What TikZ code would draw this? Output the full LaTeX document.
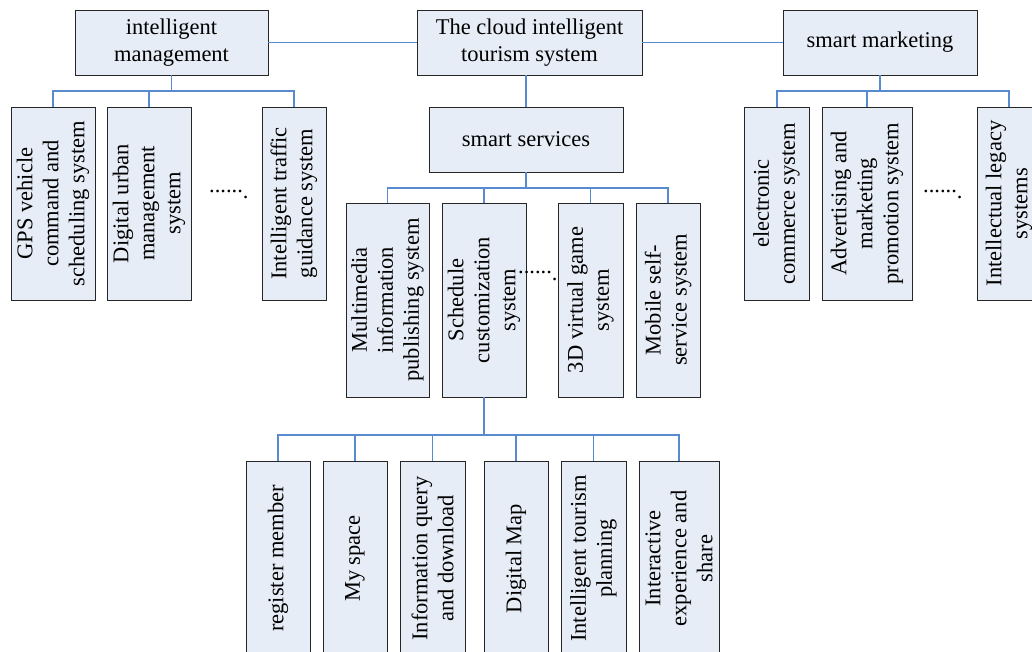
\documentclass[tikz,border=0pt]{standalone}
\usepackage{fontspec}
\setmainfont{Liberation Serif}
\usetikzlibrary{shadows}
\definecolor{boxfill}{RGB}{231,237,247}
\definecolor{linecol}{RGB}{88,138,208}
\begin{document}
\begin{tikzpicture}[x=1pt,y=-1pt,
 box/.style={draw=black!85, line width=0.9pt, fill=boxfill, inner sep=0pt,
   drop shadow={shadow xshift=0.9pt, shadow yshift=-1pt, fill=black!45, opacity=1}},
 ttxt/.style={font=\fontsize{22.5}{26.5}\selectfont, align=center},
 rot/.style={rotate=90, font=\fontsize{22.5}{26}\selectfont, align=center, inner sep=0pt},
 conn/.style={draw=linecol, line width=1.1pt},
 dots/.style={font=\fontsize{22.5}{26.5}\selectfont, inner sep=0pt}]
\useasboundingbox (0,0) rectangle (1032,652);
\clip (0,0) rectangle (1032,652);

% connectors first
\coordinate (imb) at (171.5,91);
\coordinate (smb) at (880,91);
\coordinate (ssb) at (526,188);
\coordinate (scb) at (484,435);

% top row
\node[box, ttxt, minimum width=193pt, minimum height=65pt] (im) at (171.5,42.5) {intelligent\\management};
\node[box, ttxt, minimum width=225pt, minimum height=65pt] (cloud) at (529.5,42.5) {The cloud intelligent\\tourism system};
\node[box, ttxt, minimum width=194pt, minimum height=65pt] (sm) at (880,42.5) {smart marketing};
\node[box, ttxt, minimum width=194pt, minimum height=65pt] (ss) at (526,139.5) {smart services};

% left row
\node[box, minimum width=84pt, minimum height=193pt, label={[rot]center:{GPS vehicle\\command and\\scheduling system}}] (gps) at (53,203.5) {};
\node[box, minimum width=84pt, minimum height=193pt, label={[rot]center:{Digital urban\\management\\system}}] (du) at (149,203.5) {};
\node[box, minimum width=64pt, minimum height=193pt, label={[rot]center:{Intelligent traffic\\guidance system}}] (itg) at (294,203.5) {};

% right row
\node[box, minimum width=65pt, minimum height=193pt, label={[rot]center:{electronic\\commerce system}}] (ec) at (776.5,203.5) {};
\node[box, minimum width=90pt, minimum height=193pt, label={[rot]center:{Advertising and\\marketing\\promotion system}}] (ad) at (867,203.5) {};
\node[box, minimum width=64pt, minimum height=193pt, label={[rot]center:{Intellectual legacy\\systems}}] (il) at (1009,203.5) {};

% middle row
\node[box, minimum width=83pt, minimum height=194pt, label={[rot]center:{Multimedia\\information\\publishing system}}] (mm) at (387.5,300) {};
\node[box, minimum width=84pt, minimum height=194pt, label={[rot]center:{Schedule\\customization\\system}}] (sc) at (484,300) {};
\node[box, minimum width=65pt, minimum height=194pt, label={[rot]center:{3D virtual game\\system}}] (vg) at (590.5,300) {};
\node[box, minimum width=64pt, minimum height=194pt, label={[rot]center:{Mobile self-\\service system}}] (mb) at (668,300) {};

% bottom row
\node[box, minimum width=64pt, minimum height=195pt, label={[rot]center:{register member}}] (rm) at (278,558.5) {};
\node[box, minimum width=64pt, minimum height=195pt, label={[rot]center:{My space}}] (ms) at (355,558.5) {};
\node[box, minimum width=65pt, minimum height=195pt, label={[rot]center:{Information query\\and download}}] (iq) at (432.5,558.5) {};
\node[box, minimum width=64pt, minimum height=195pt, label={[rot]center:{Digital Map}}] (dm) at (516,558.5) {};
\node[box, minimum width=65pt, minimum height=195pt, label={[rot]center:{Intelligent tourism\\planning}}] (it) at (593.5,558.5) {};
\node[box, minimum width=80pt, minimum height=195pt, label={[rot]center:{Interactive\\experience and\\share}}] (ie) at (679,558.5) {};

% top connections
\draw[conn] (im.east) -- (cloud.west);
\draw[conn] (cloud.east) -- (sm.west);
\draw[conn] (ss.north) -- (ss.north |- cloud.south);

% left bracket
\draw[conn] (im.south) -- (imb);
\draw[conn] (gps.north) -- (gps.north |- imb) -- (itg.north |- imb) -- (itg.north);
\draw[conn] (du.north) -- (du.north |- imb);

% right bracket
\draw[conn] (sm.south) -- (smb);
\draw[conn] ([xshift=0.5pt]ec.north) -- ([xshift=0.5pt]ec.north |- smb) -- (il.north |- smb) -- (il.north);
\draw[conn] (ad.north) -- (ad.north |- smb);

% middle bracket
\draw[conn] (ss.south) -- (ssb);
\draw[conn] (mm.north) -- (mm.north |- ssb) -- (mb.north |- ssb) -- (mb.north);
\draw[conn] (sc.north) -- (sc.north |- ssb);
\draw[conn] (vg.north) -- (vg.north |- ssb);

% bottom bracket
\draw[conn] (sc.south) -- (scb);
\draw[conn] (rm.north) -- (rm.north |- scb) -- (ie.north |- scb) -- (ie.north);
\draw[conn] (ms.north) -- (ms.north |- scb);
\draw[conn] (iq.north) -- (iq.north |- scb);
\draw[conn] (dm.north) -- (dm.north |- scb);
\draw[conn] (it.north) -- (it.north |- scb);

% ellipses
\node[dots, anchor=base west] (dl) at (209,199) {\raisebox{6.5pt}{......}.};
\node[dots, anchor=base west] (dmid) at (518,280) {\raisebox{6.5pt}{......}.};
\node[dots, anchor=base west] (dr) at (923,199) {\raisebox{6.5pt}{......}.};
\end{tikzpicture}
\end{document}
